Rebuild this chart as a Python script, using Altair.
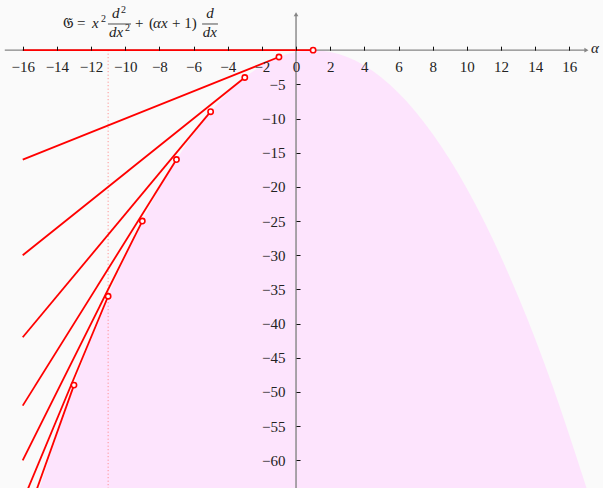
import altair as alt
import pandas as pd

# Eigenvalue lines lambda_n(alpha) of the operator, drawn from alpha = -16
# to the point where each one touches the envelope.
n_index = [0, 1, 2, 3, 4, 5, 6, 7]
start_alpha = -16
start_value = [0, -16, -30, -42, -52, -60, -66, -70]
end_alpha = [1, -1, -3, -5, -7, -9, -11, -13]
end_value = [0, -1, -4, -9, -16, -25, -36, -49]

# Envelope of the lines: upper edge of the shaded region
env_alpha = [-15, -13, -11, -9, -7, -5, -3, -1, 1, 3, 5, 7, 9, 11, 13, 15, 17]
env_value = [-64, -49, -36, -25, -16, -9, -4, -1, 0, -1, -4, -9, -16, -25, -36, -49, -64]

x_ticks = list(range(-16, 17, 2))
y_ticks = list(range(-5, -61, -5))
marker_alpha = -11

# Visible window
X_MIN, X_MAX = -17.33, 17.97
Y_MIN, Y_MAX = -64.05, 7.34
W, H = 603, 488
AXIS_X_FROM, AXIS_X_TO = -17.05, 17.0
AXIS_Y_TOP = 5.25
FLOOR = -75

SERIF = "Liberation Serif"
RED = "#ff0000"
GREY = "#858585"

x0_px = W * (0 - X_MIN) / (X_MAX - X_MIN)
y0_px = H * (Y_MAX - 0) / (Y_MAX - Y_MIN)

xs = alt.Scale(domain=[X_MIN, X_MAX], nice=False, zero=False)
ys = alt.Scale(domain=[Y_MIN, Y_MAX], nice=False, zero=False)

# Axes cross at the origin: ticks point into the plot, labels sit on the other side
x_axis = alt.Axis(
    orient="top", offset=-y0_px, values=x_ticks, domain=False, grid=False,
    tickSize=4, tickColor="#111", tickWidth=1,
    labelPadding=-20, labelBaseline="middle", labelFont=SERIF,
    labelFontSize=15, labelColor="#222", labelOverlap=False,
    labelFlush=False, labelBound=False, title=None, zindex=1,
)
y_axis = alt.Axis(
    orient="right", offset=x0_px - W, values=y_ticks, domain=False, grid=False,
    tickSize=4, tickColor="#111", tickWidth=1,
    labelPadding=-15, labelAlign="right", labelBaseline="middle",
    labelFont=SERIF, labelFontSize=15, labelColor="#222",
    labelOverlap=False, labelFlush=False, labelBound=False, title=None, zindex=1,
)


def X(field):
    return alt.X(field, scale=xs, axis=x_axis)


def Y(field):
    return alt.Y(field, scale=ys, axis=y_axis)


env = pd.DataFrame({"a": env_alpha, "v": env_value, "floor": FLOOR})

shade = alt.Chart(env).mark_area(
    color="#fde4fd", opacity=1, interpolate="natural", clip=True
).encode(x=X("a:Q"), y=Y("v:Q"), y2="floor:Q")

marker = alt.Chart(pd.DataFrame({"a": [marker_alpha], "top": [0], "bottom": [FLOOR]})).mark_rule(
    color="#ff8080", strokeWidth=1, strokeDash=[1, 2.5], clip=True
).encode(x=X("a:Q"), y=Y("top:Q"), y2="bottom:Q")

axis_lines = pd.DataFrame({
    "x1": [AXIS_X_FROM, 0], "x2": [AXIS_X_TO, 0],
    "y1": [0, AXIS_Y_TOP], "y2": [0, FLOOR],
})
axes = alt.Chart(axis_lines).mark_rule(color=GREY, strokeWidth=1.4, clip=True).encode(
    x=X("x1:Q"), x2="x2:Q", y=Y("y1:Q"), y2="y2:Q",
)

arrows = pd.DataFrame({
    "a": [AXIS_X_TO, 0], "v": [0, AXIS_Y_TOP], "shape": ["triangle-right", "triangle-up"],
})
arrow_heads = alt.Chart(arrows).mark_point(
    filled=True, color=GREY, size=22, opacity=1
).encode(
    x=X("a:Q"), y=Y("v:Q"),
    shape=alt.Shape("shape:N", scale=None, legend=None),
)

rows = []
for n, v0, a1, v1 in zip(n_index, start_value, end_alpha, end_value):
    rows.append({"n": n, "a": start_alpha, "v": v0})
    rows.append({"n": n, "a": a1, "v": v1})
lines_df = pd.DataFrame(rows)

lines = alt.Chart(lines_df).mark_line(color=RED, strokeWidth=1.8, clip=True).encode(
    x=X("a:Q"), y=Y("v:Q"), detail="n:N",
)

ends = alt.Chart(pd.DataFrame({"a": end_alpha, "v": end_value})).mark_point(
    shape="circle", filled=False, fill="white", fillOpacity=1,
    color=RED, strokeWidth=1.6, size=28, opacity=1, clip=True
).encode(x=X("a:Q"), y=Y("v:Q"))

# Operator formula  G = x^2 d^2/dx^2 + (alpha x + 1) d/dx
formula = pd.DataFrame([
    # text, alpha, value, style, size, align
    ("𝔊", -13.66, 3.20, "normal", 15, "left"),
    ("=", -12.82, 3.20, "normal", 15, "left"),
    ("x", -11.94, 3.20, "italic", 15, "left"),
    ("2", -11.42, 4.13, "normal", 10, "left"),
    ("d", -10.77, 4.64, "italic", 15, "left"),
    ("2", -10.25, 5.37, "normal", 10, "left"),
    ("dx", -10.95, 1.89, "italic", 15, "left"),
    ("2", -10.01, 2.74, "normal", 10, "left"),
    ("+", -9.43, 3.20, "normal", 15, "left"),
    ("(", -8.61, 3.20, "normal", 15, "left"),
    ("αx", -8.37, 3.20, "italic", 15, "left"),
    ("+ 1)", -7.26, 3.20, "normal", 15, "left"),
    ("d", -5.04, 4.64, "italic", 15, "center"),
    ("dx", -5.04, 1.89, "italic", 15, "center"),
    ("α", 17.27, -0.40, "italic", 15, "left"),
], columns=["t", "a", "v", "style", "size", "align"])


def text_layer(style, align):
    sub = formula[(formula["style"] == style) & (formula["align"] == align)]
    return alt.Chart(sub).mark_text(
        font=SERIF, fontStyle=style, align=align, baseline="alphabetic", color="#222"
    ).encode(
        x=X("a:Q"), y=Y("v:Q"), text="t:N",
        size=alt.Size("size:Q", scale=None, legend=None),
    )


bars = alt.Chart(pd.DataFrame({"x1": [-11.01, -5.50], "x2": [-9.66, -4.57], "v": [3.83, 3.83]})).mark_rule(
    color="#222", strokeWidth=0.8
).encode(x=X("x1:Q"), x2="x2:Q", y=Y("v:Q"))

chart = alt.layer(
    shade, marker, axes, arrow_heads, lines, ends, bars,
    text_layer("normal", "left"), text_layer("italic", "left"),
    text_layer("italic", "center"),
).properties(
    width=W, height=H, background="#fafafa", padding=0,
    autosize=alt.AutoSizeParams(type="none"),
).configure_view(stroke=None)

chart.save("out.html", embed_options={"renderer": "svg", "actions": False})
